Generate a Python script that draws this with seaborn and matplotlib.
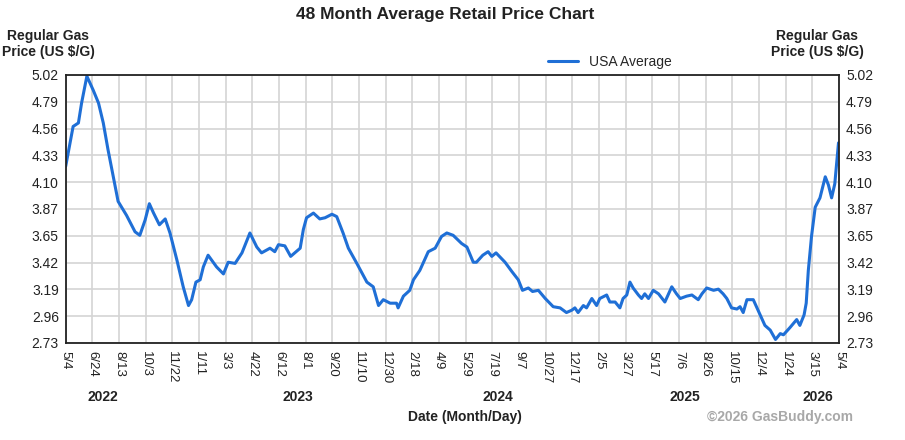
import numpy as np
import pandas as pd
import matplotlib
matplotlib.use("Agg")
import matplotlib.pyplot as plt
import matplotlib.transforms as mtransforms
import seaborn as sns

# Days since 5/4/2022 and USA average regular gas price ($/gal)
days = [0, 14, 24, 30, 40, 52, 62, 71, 80, 90, 99, 115, 131, 140, 150, 158, 166, 177,
        188, 197, 210, 222, 232, 238, 246, 254, 260, 269, 285, 298, 307, 320, 333, 348,
        361, 370, 386, 395, 402, 414, 425, 443, 449, 455, 468, 480, 490, 503, 512, 524,
        534, 550, 569, 581, 591, 600, 613, 625, 628, 638, 650, 657, 669, 685, 698, 710,
        720, 732, 748, 758, 770, 776, 788, 798, 805, 813, 830, 843, 855, 863, 874, 882,
        893, 906, 921, 934, 946, 956, 962, 968, 978, 984, 994, 1003, 1009, 1022, 1028,
        1038, 1047, 1053, 1060, 1066, 1072, 1082, 1088, 1094, 1101, 1110, 1120, 1132,
        1145, 1154, 1161, 1173, 1183, 1195, 1202, 1211, 1224, 1233, 1242, 1249, 1258,
        1268, 1274, 1280, 1287, 1299, 1312, 1321, 1331, 1341, 1350, 1356, 1368, 1381,
        1387, 1395, 1399, 1403, 1409, 1416, 1425, 1435, 1441, 1447, 1453, 1460]
price = [4.24, 4.58, 4.61, 4.78, 5.01, 4.89, 4.78, 4.61, 4.38, 4.15, 3.94, 3.82, 3.68,
         3.65, 3.78, 3.92, 3.84, 3.74, 3.79, 3.67, 3.44, 3.21, 3.05, 3.10, 3.25, 3.27,
         3.38, 3.48, 3.38, 3.32, 3.42, 3.41, 3.50, 3.67, 3.55, 3.50, 3.54, 3.51, 3.57,
         3.56, 3.47, 3.54, 3.70, 3.80, 3.84, 3.79, 3.80, 3.83, 3.81, 3.67, 3.54, 3.41,
         3.25, 3.21, 3.05, 3.10, 3.07, 3.07, 3.03, 3.13, 3.18, 3.27, 3.35, 3.51, 3.54,
         3.64, 3.67, 3.65, 3.58, 3.55, 3.42, 3.42, 3.48, 3.51, 3.47, 3.50, 3.42, 3.34,
         3.27, 3.18, 3.20, 3.17, 3.18, 3.11, 3.04, 3.03, 2.99, 3.01, 3.03, 2.99, 3.05,
         3.03, 3.11, 3.05, 3.11, 3.14, 3.08, 3.08, 3.03, 3.11, 3.14, 3.25, 3.20, 3.14,
         3.11, 3.15, 3.11, 3.18, 3.15, 3.08, 3.21, 3.15, 3.11, 3.13, 3.14, 3.10, 3.15,
         3.20, 3.18, 3.19, 3.15, 3.11, 3.03, 3.02, 3.04, 2.99, 3.10, 3.10, 2.97, 2.88,
         2.84, 2.76, 2.81, 2.80, 2.86, 2.93, 2.88, 2.97, 3.07, 3.35, 3.64, 3.89, 3.97,
         4.15, 4.08, 3.97, 4.09, 4.44]

date_labels = ["5/4", "6/24", "8/13", "10/3", "11/22", "1/11", "3/3", "4/22", "6/12",
               "8/1", "9/20", "11/10", "12/30", "2/18", "4/9", "5/29", "7/19", "9/7",
               "10/27", "12/17", "2/5", "3/27", "5/17", "7/6", "8/26", "10/15", "12/4",
               "1/24", "3/15", "5/4"]
y_labels = ["2.73", "2.96", "3.19", "3.42", "3.65", "3.87", "4.10", "4.33", "4.56",
            "4.79", "5.02"]
years = ["2022", "2023", "2024", "2025", "2026"]
year_days = [70, 439, 817, 1170, 1421]

total_days = 1461
df = pd.DataFrame({"day": days, "price": price})

sns.set_style("white")
plt.rcParams["font.family"] = ["Liberation Sans", "DejaVu Sans"]

fig = plt.figure(figsize=(9.05, 4.40), dpi=100)
ax = fig.add_axes([0.0726, 0.2205, 0.8545, 0.6091])

sns.lineplot(data=df, x="day", y="price", ax=ax, color="#1f6fd6", linewidth=2.2,
             label="USA Average", solid_joinstyle="round", solid_capstyle="round")

ax.set_xlim(0, total_days)
ax.set_ylim(2.73, 5.02)
ax.set_xticks(np.linspace(0, total_days, len(date_labels)))
ax.set_xticklabels(date_labels, rotation=270, fontsize=9.5, color="#222222")
ax.set_yticks(np.linspace(2.73, 5.02, len(y_labels)))
ax.set_yticklabels(y_labels, fontsize=10, color="#222222")
ax.tick_params(axis="x", length=0, pad=6)
ax.tick_params(axis="y", length=0, pad=5, right=False, labelright=True)
ax.grid(True, color="#d4d4d4", linewidth=1.2)
for s in ax.spines.values():
    s.set_color("#222222")
    s.set_linewidth(1.3)
ax.set_xlabel("")
ax.set_ylabel("")

# Year labels under the month/day ticks
trans = mtransforms.blended_transform_factory(ax.transData, ax.transAxes)
for yr, d in zip(years, year_days):
    ax.text(d, -0.2, yr, transform=trans, ha="center", va="center",
            fontsize=10, fontweight="bold", color="#222222")

fig.text(0.492, 0.966, "48 Month Average Retail Price Chart", ha="center", va="center",
         fontsize=12.5, fontweight="bold", color="#222222")
fig.text(0.0535, 0.900, "Regular Gas\nPrice (US $/G)", ha="center", va="center",
         fontsize=10, fontweight="bold", color="#222222", linespacing=1.1)
fig.text(0.903, 0.900, "Regular Gas\nPrice (US $/G)", ha="center", va="center",
         fontsize=10, fontweight="bold", color="#222222", linespacing=1.1)
fig.text(0.514, 0.052, "Date (Month/Day)", ha="center", va="center",
         fontsize=10, fontweight="bold", color="#222222")
fig.text(0.9425, 0.052, "\u00a92026 GasBuddy.com", ha="right", va="center",
         fontsize=10, fontweight="bold", color="#a8a8a8")

ax.legend(loc="center", bbox_to_anchor=(0.674, 0.859), bbox_transform=fig.transFigure,
          frameon=False, fontsize=10, handlelength=2.2, handletextpad=0.8)

fig.savefig("out.png", dpi=100)
